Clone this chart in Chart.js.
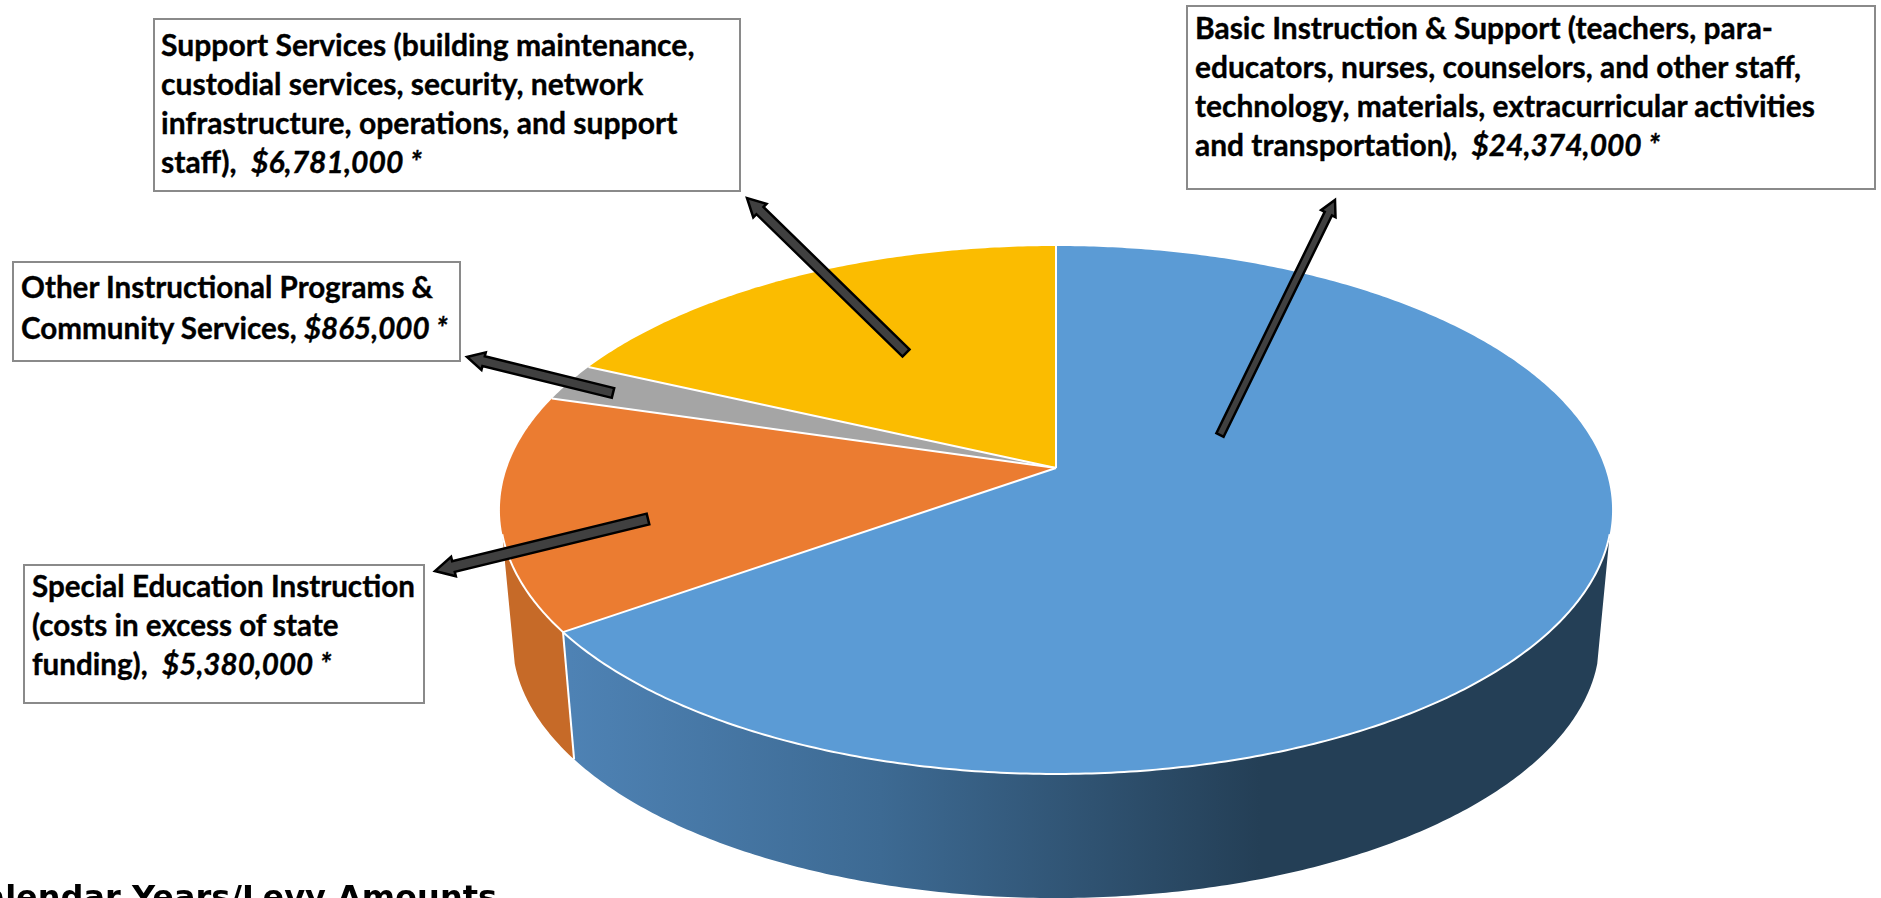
<!DOCTYPE html>
<html><head><meta charset="utf-8">
<script src="https://cdn.jsdelivr.net/npm/chart.js@4/dist/chart.umd.js"></script>
<style>
html,body{margin:0;padding:0;background:#fff;width:1881px;height:898px;overflow:hidden}
#wrap{position:relative;width:1881px;height:898px;overflow:hidden}
canvas{position:absolute;left:0;top:0}
.box{position:absolute;box-sizing:border-box;background:#fff;border:2px solid #8a8a8a;font:700 29.6px/39px Lato,sans-serif;color:#000;white-space:pre;-webkit-text-stroke:0.35px #000}
.box div{position:absolute}
.box i{font-weight:700;font-style:italic}
#foot{position:absolute;white-space:nowrap;font:700 32px "DejaVu Sans",sans-serif;color:#000}
</style></head><body>
<div id="wrap"><canvas id="c" width="1881" height="898"></canvas></div>
<script>
const categories = ["Basic Instruction & Support","Special Education Instruction","Other Instructional Programs & Community Services","Support Services"];
const amounts = [24374000, 5380000, 865000, 6781000];
const faceColors = ["#5b9bd5","#eb7c31","#a5a5a5","#fbbc00"];
const wallColors = [null,"#c66a28",null,null];
const calloutLines = [
 [["Basic Instruction & Support (teachers, para-"],["educators, nurses, counselors, and other staff,"],["technology, materials, extracurricular activities"],["and transportation)",",  $24,374,000 *"]],
 [["Special Education Instruction"],["(costs in excess of state"],["funding),  ","$5,380,000 *"]],
 [["Other Instructional Programs &"],["Community Services, ","$865,000 *"]],
 [["Support Services (building maintenance,"],["custodial services, security, network"],["infrastructure, operations, and support"],["staff),  ","$6,781,000 *"]]
];
const footnote = "Calendar Years/Levy Amounts";

// layout of annotation boxes [left, top, width, height, textLeft, firstLineTop, lineHeight, fontSize]
const boxes = [[1186,5,690,185,9,3,39,29.95],[23,564,402,140,9,2,39,29.6],[12,261,449,101,9,6,40.5,29.6],[153,18,588,174,8,7,39,30.1]];
const arrows = [ // tail x,y, head x,y, shaft width, head width
 [1220,435,1335,200,8,16],[648,519,435,571,11,20],[613,393,467,357,10,18],[906,353,747,198,10,19]];

const Rx=549, Ry=257.3, K=0.159, VY=6288, S=0.9775, EDGE=0.25;
function proj(a,arc,r){const W=1-K*r*Math.sin(a);return [arc.x+Rx*r*Math.cos(a)/W,arc.y+Ry*r*Math.sin(a)/W];}
function low(p,arc){return [arc.x+(p[0]-arc.x)*S, VY-(VY-p[1])*S];}
function samples(s,e){const n=Math.max(2,Math.ceil((e-s)/0.01));const o=[];for(let i=0;i<=n;i++)o.push(s+(e-s)*i/n);return o;}

const pie3d={id:'pie3d',
 beforeDatasetsDraw(chart){
  const ctx=chart.ctx, arcs=chart.getDatasetMeta(0).data;
  ctx.save();
  // side walls, only the slices facing the viewer
  arcs.forEach((arc,i)=>{
    const s=Math.max(arc.startAngle,EDGE), e=Math.min(arc.endAngle,Math.PI-EDGE);
    if(s>=e) return;
    const t=samples(s,e).map(a=>proj(a,arc,1));
    ctx.beginPath();
    t.forEach((p,j)=>j?ctx.lineTo(p[0],p[1]):ctx.moveTo(p[0],p[1]));
    t.slice().reverse().forEach(p=>{const q=low(p,arc);ctx.lineTo(q[0],q[1]);});
    ctx.closePath();
    if(wallColors[i]) ctx.fillStyle=wallColors[i];
    else{
      const g=ctx.createLinearGradient(570,0,1260,0);
      g.addColorStop(0,'#4e82b4');g.addColorStop(0.45,'#3d6a93');g.addColorStop(1,'#243f56');
      ctx.fillStyle=g;
    }
    ctx.fill();
    if(i===1){ // seam between the two visible walls
      const p=proj(arc.startAngle,arc,1),q=low(p,arc);
      ctx.strokeStyle='#fff';ctx.lineWidth=2;
      ctx.beginPath();ctx.moveTo(p[0],p[1]);ctx.lineTo(q[0],q[1]);ctx.stroke();
    }
  });
  // top faces
  arcs.forEach(arc=>{
    const pts=samples(arc.startAngle,arc.endAngle).map(a=>proj(a,arc,1));
    ctx.beginPath();ctx.moveTo(arc.x,arc.y);
    pts.forEach(p=>ctx.lineTo(p[0],p[1]));
    ctx.closePath();
    ctx.fillStyle=arc.options.backgroundColor;ctx.fill();
  });
  ctx.lineJoin='round';ctx.strokeStyle='#fff';ctx.lineWidth=2;
  arcs.forEach(arc=>{
    const p=proj(arc.startAngle,arc,1);
    ctx.beginPath();ctx.moveTo(arc.x,arc.y);ctx.lineTo(p[0],p[1]);ctx.stroke();
  });
  // rim highlight along the front edge
  const a0=arcs[0];
  ctx.beginPath();
  samples(EDGE,Math.PI-EDGE).forEach((a,j)=>{const p=proj(a,a0,1);j?ctx.lineTo(p[0],p[1]):ctx.moveTo(p[0],p[1]);});
  ctx.stroke();
  ctx.restore();
  return false;
 },
 afterDraw(chart){
  const ctx=chart.ctx;
  ctx.save();
  arrows.forEach(([x0,y0,x1,y1,w,hw])=>{
    const d=Math.hypot(x1-x0,y1-y0),ux=(x1-x0)/d,uy=(y1-y0)/d,nx=-uy,ny=ux,hl=hw*0.95;
    const bx=x1-ux*hl,by=y1-uy*hl;
    ctx.beginPath();
    ctx.moveTo(x0+nx*w/2,y0+ny*w/2);
    ctx.lineTo(bx+nx*w/2,by+ny*w/2);
    ctx.lineTo(bx+nx*hw/2,by+ny*hw/2);
    ctx.lineTo(x1,y1);
    ctx.lineTo(bx-nx*hw/2,by-ny*hw/2);
    ctx.lineTo(bx-nx*w/2,by-ny*w/2);
    ctx.lineTo(x0-nx*w/2,y0-ny*w/2);
    ctx.closePath();
    ctx.fillStyle='#404040';ctx.fill();
    ctx.strokeStyle='#000';ctx.lineWidth=2.5;ctx.lineJoin='miter';ctx.stroke();
  });
  ctx.restore();
 }
};

new Chart(document.getElementById('c'),{
 type:'pie',
 data:{labels:categories,datasets:[{data:amounts,backgroundColor:faceColors,borderWidth:0}]},
 options:{responsive:false,animation:false,devicePixelRatio:1,
  layout:{padding:{left:231,top:38}},
  plugins:{legend:{display:false},tooltip:{enabled:false}}},
 plugins:[pie3d]
});

const wrap=document.getElementById('wrap');
boxes.forEach((b,i)=>{
  const el=document.createElement('div');el.className='box';
  el.style.cssText=`left:${b[0]}px;top:${b[1]}px;width:${b[2]}px;height:${b[3]}px;font-size:${b[7]}px`;
  calloutLines[i].forEach((parts,j)=>{
    const l=document.createElement('div');
    l.style.left=(b[4]-2)+'px';l.style.top=(b[5]-2+j*b[6])+'px';
    l.appendChild(document.createTextNode(parts[0]));
    if(parts[1]){const it=document.createElement('i');it.textContent=parts[1];l.appendChild(it);}
    el.appendChild(l);
  });
  wrap.appendChild(el);
});
const f=document.createElement('div');f.id='foot';f.textContent=footnote;
f.style.right=(1881-497)+'px';f.style.top='878px';
wrap.appendChild(f);
</script>
</body></html>
